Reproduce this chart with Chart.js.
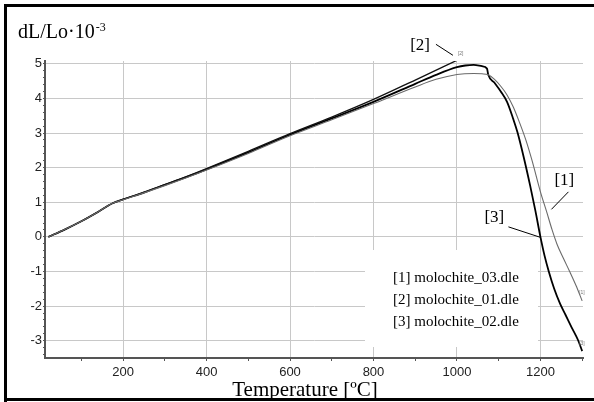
<!DOCTYPE html>
<html>
<head>
<meta charset="utf-8">
<script src="https://cdn.jsdelivr.net/npm/chart.js@4/dist/chart.umd.min.js"></script>
<style>
    html, body { margin: 0; padding: 0; background: #fff; }
    #contenedor { width: 594px; height: 402px; position: relative; }
</style>
</head>
<body>
<div id="contenedor"><canvas id="graficoDilatacion"></canvas></div>
<script>
// ===================================== Datos ==================
// [1] molochite_03.dle  (linea gris fina)
var temp1 = [21, 60, 100, 140, 175, 200, 250, 300, 350, 400, 500, 600, 700, 800, 900, 950, 1000, 1040, 1060, 1075,
             1090, 1105, 1120, 1135, 1150, 1165, 1180, 1200, 1215, 1228, 1240, 1255, 1270, 1285, 1300];
var dl1   = [0, 0.21, 0.45, 0.72, 0.97, 1.07, 1.27, 1.48, 1.70, 1.93, 2.41, 2.92, 3.38, 3.85, 4.33, 4.55, 4.69, 4.72, 4.71, 4.68,
             4.55, 4.35, 4.10, 3.75, 3.30, 2.80, 2.20, 1.30, 0.72, 0.20, -0.22, -0.62, -1.00, -1.40, -1.85];

// [2] molochite_01.dle  (termina en 1000 ºC)
var temp2 = [21, 60, 100, 140, 175, 200, 250, 300, 350, 400, 500, 600, 700, 800, 900, 1000];
var dl2   = [0, 0.21, 0.45, 0.72, 0.97, 1.08, 1.29, 1.51, 1.73, 1.97, 2.47, 2.98, 3.46, 3.97, 4.53, 5.10];

// [3] molochite_02.dle  (linea negra gruesa)
var temp3 = [21, 60, 100, 140, 175, 200, 250, 300, 350, 400, 500, 600, 700, 800, 900, 950, 1000, 1020, 1040, 1060, 1072, 1075,
             1090, 1105, 1120, 1135, 1145, 1160, 1175, 1188, 1200, 1210, 1220, 1233, 1247, 1260, 1275, 1290, 1300];
var dl3   = [0, 0.21, 0.45, 0.72, 0.97, 1.08, 1.28, 1.50, 1.72, 1.95, 2.44, 2.95, 3.42, 3.90, 4.42, 4.68, 4.90, 4.95, 4.97, 4.93, 4.86, 4.68,
             4.45, 4.20, 3.90, 3.40, 3.02, 2.30, 1.50, 0.75, 0, -0.55, -1.00, -1.50, -1.93, -2.25, -2.62, -2.98, -3.30];

var nombresSeries = ["[1] molochite_03.dle", "[2] molochite_01.dle", "[3] molochite_02.dle"];

var ticksX = [200, 400, 600, 800, 1000, 1200];
var ticksY = [-3, -2, -1, 0, 1, 2, 3, 4, 5];



// ===================================== Helpers ==================
function puntos(t, v) {
    return t.map(function (x, i) { return { x: x, y: v[i] }; });
}

function esEntero(v) {
    return Math.abs(v - Math.round(v)) < 1e-6;
}

var serif = "'Liberation Serif', 'Times New Roman', serif";
var sans = "'Liberation Sans', Arial, sans-serif";



// ===================================== Plugin: marco, titulos, leyenda y etiquetas ==================
var decoracion = {
    id: 'decoracion',
    beforeDraw: function (chart) {
        var ctx = chart.ctx;
        ctx.save();
        ctx.fillStyle = '#fff';
        ctx.fillRect(0, 0, chart.width, chart.height);
        ctx.restore();
    },
    beforeDatasetsDraw: function (chart) {
        // caja blanca de la leyenda tapa la grilla
        var ctx = chart.ctx;
        ctx.save();
        ctx.fillStyle = '#fff';
        ctx.fillRect(365, 250, 173, 97);
        ctx.restore();
    },
    afterDraw: function (chart) {
        var ctx = chart.ctx;
        ctx.save();

        // marco exterior
        ctx.fillStyle = '#000';
        ctx.fillRect(4, 4, chart.width - 4, 3);
        ctx.fillRect(4, 4, 3, chart.height - 4);
        ctx.fillRect(4, 398, chart.width - 4, 3);

        // titulo eje Y con exponente
        ctx.fillStyle = '#000';
        ctx.textBaseline = 'alphabetic';
        ctx.textAlign = 'left';
        ctx.font = '20px ' + serif;
        ctx.fillText('dL/Lo\u00b710', 18, 38);
        var w = ctx.measureText('dL/Lo\u00b710').width;
        ctx.font = '12px ' + serif;
        ctx.fillText('-3', 18 + w + 1, 31);

        // titulo eje X
        ctx.font = '21px ' + serif;
        ctx.textAlign = 'center';
        ctx.fillText('Temperature [\u00baC]', 305, 396);

        // leyenda
        ctx.font = '15px ' + serif;
        ctx.textAlign = 'left';
        nombresSeries.forEach(function (n, i) {
            ctx.fillText(n, 393, 282 + i * 22);
        });

        // etiquetas con linea guia
        var m1 = chart.getDatasetMeta(0).data;
        var m2 = chart.getDatasetMeta(1).data;
        var m3 = chart.getDatasetMeta(2).data;
        var p2 = m2[m2.length - 1];
        var p3 = m3[temp3.indexOf(1200)];
        var p1 = m1[temp1.indexOf(1200)];
        var f1 = m1[m1.length - 1];
        var f3 = m3[m3.length - 1];

        ctx.strokeStyle = '#000';
        ctx.lineWidth = 1;
        ctx.beginPath();
        ctx.moveTo(p2.x - 21, p2.y - 16); ctx.lineTo(p2.x - 4, p2.y - 5);
        ctx.moveTo(p3.x - 32, p3.y - 10); ctx.lineTo(p3.x, p3.y + 0.5);
        ctx.moveTo(p1.x + 28, p1.y); ctx.lineTo(p1.x + 11, p1.y + 17.5);
        ctx.stroke();

        ctx.font = '17px ' + serif;
        ctx.textAlign = 'right';
        ctx.fillText('[2]', p2.x - 27, p2.y - 10);
        ctx.textAlign = 'left';
        ctx.fillText('[3]', p3.x - 56, p3.y - 15);
        ctx.fillText('[1]', p1.x + 14, p1.y - 7);

        ctx.font = '5px ' + sans;
        ctx.fillStyle = '#777';
        ctx.fillText('[2]', p2.x + 1, p2.y - 5);
        ctx.fillText('[1]', f1.x - 3, f1.y - 7);
        ctx.fillText('[3]', f3.x - 3, f3.y - 6);

        ctx.restore();
    }
};



// ===================================== Grafico ==================
var chartDilatacion = new Chart(document.getElementById('graficoDilatacion'), {
    type: 'scatter',
    data: {
        datasets: [{
            label: nombresSeries[0],
            data: puntos(temp1, dl1),
            showLine: true,
            borderColor: '#6a6a6a',
            borderWidth: 1.1,
            pointRadius: 0,
            cubicInterpolationMode: 'monotone'
        }, {
            label: nombresSeries[1],
            data: puntos(temp2, dl2),
            showLine: true,
            borderColor: '#111',
            borderWidth: 1.3,
            pointRadius: 0,
            cubicInterpolationMode: 'monotone'
        }, {
            label: nombresSeries[2],
            data: puntos(temp3, dl3),
            showLine: true,
            borderColor: '#000',
            borderWidth: 1.8,
            pointRadius: 0,
            cubicInterpolationMode: 'monotone'
        }]
    },
    options: {
        responsive: true,
        maintainAspectRatio: false,
        animation: false,
        layout: { padding: { left: 0, top: 61, right: 11, bottom: 0 } },
        plugins: {
            legend: { display: false },
            tooltip: { enabled: false }
        },
        scales: {
            x: {
                type: 'linear',
                min: 13,
                max: 1302,
                afterFit: function (s) { s.height = 44; },
                ticks: {
                    stepSize: 100,
                    includeBounds: false,
                    autoSkip: false,
                    maxRotation: 0,
                    padding: 4,
                    color: '#222',
                    font: { family: sans, size: 13 },
                    callback: function (v) { return ticksX.indexOf(Math.round(v)) >= 0 && esEntero(v) ? String(Math.round(v)) : ''; }
                },
                grid: {
                    color: function (c) { return ticksX.indexOf(c.tick.value) >= 0 ? '#c8c8c8' : 'rgba(0,0,0,0)'; },
                    tickColor: function (c) { return c.tick.value % 100 === 0 ? '#555' : 'rgba(0,0,0,0)'; },
                    tickLength: 3,
                    lineWidth: 1
                },
                border: { color: '#555', width: 2 }
            },
            y: {
                type: 'linear',
                min: -3.5,
                max: 5.08,
                afterFit: function (s) { s.width = 45; },
                ticks: {
                    stepSize: 0.2,
                    includeBounds: false,
                    autoSkip: false,
                    padding: 1,
                    color: '#222',
                    font: { family: sans, size: 13 },
                    callback: function (v) { return esEntero(v) && ticksY.indexOf(Math.round(v)) >= 0 ? String(Math.round(v)) : ''; }
                },
                grid: {
                    color: function (c) { return esEntero(c.tick.value) ? '#c8c8c8' : 'rgba(0,0,0,0)'; },
                    tickColor: '#555',
                    tickLength: 2,
                    lineWidth: 1
                },
                border: { color: '#555', width: 2 }
            }
        }
    },
    plugins: [decoracion]
});
</script>
</body>
</html>
